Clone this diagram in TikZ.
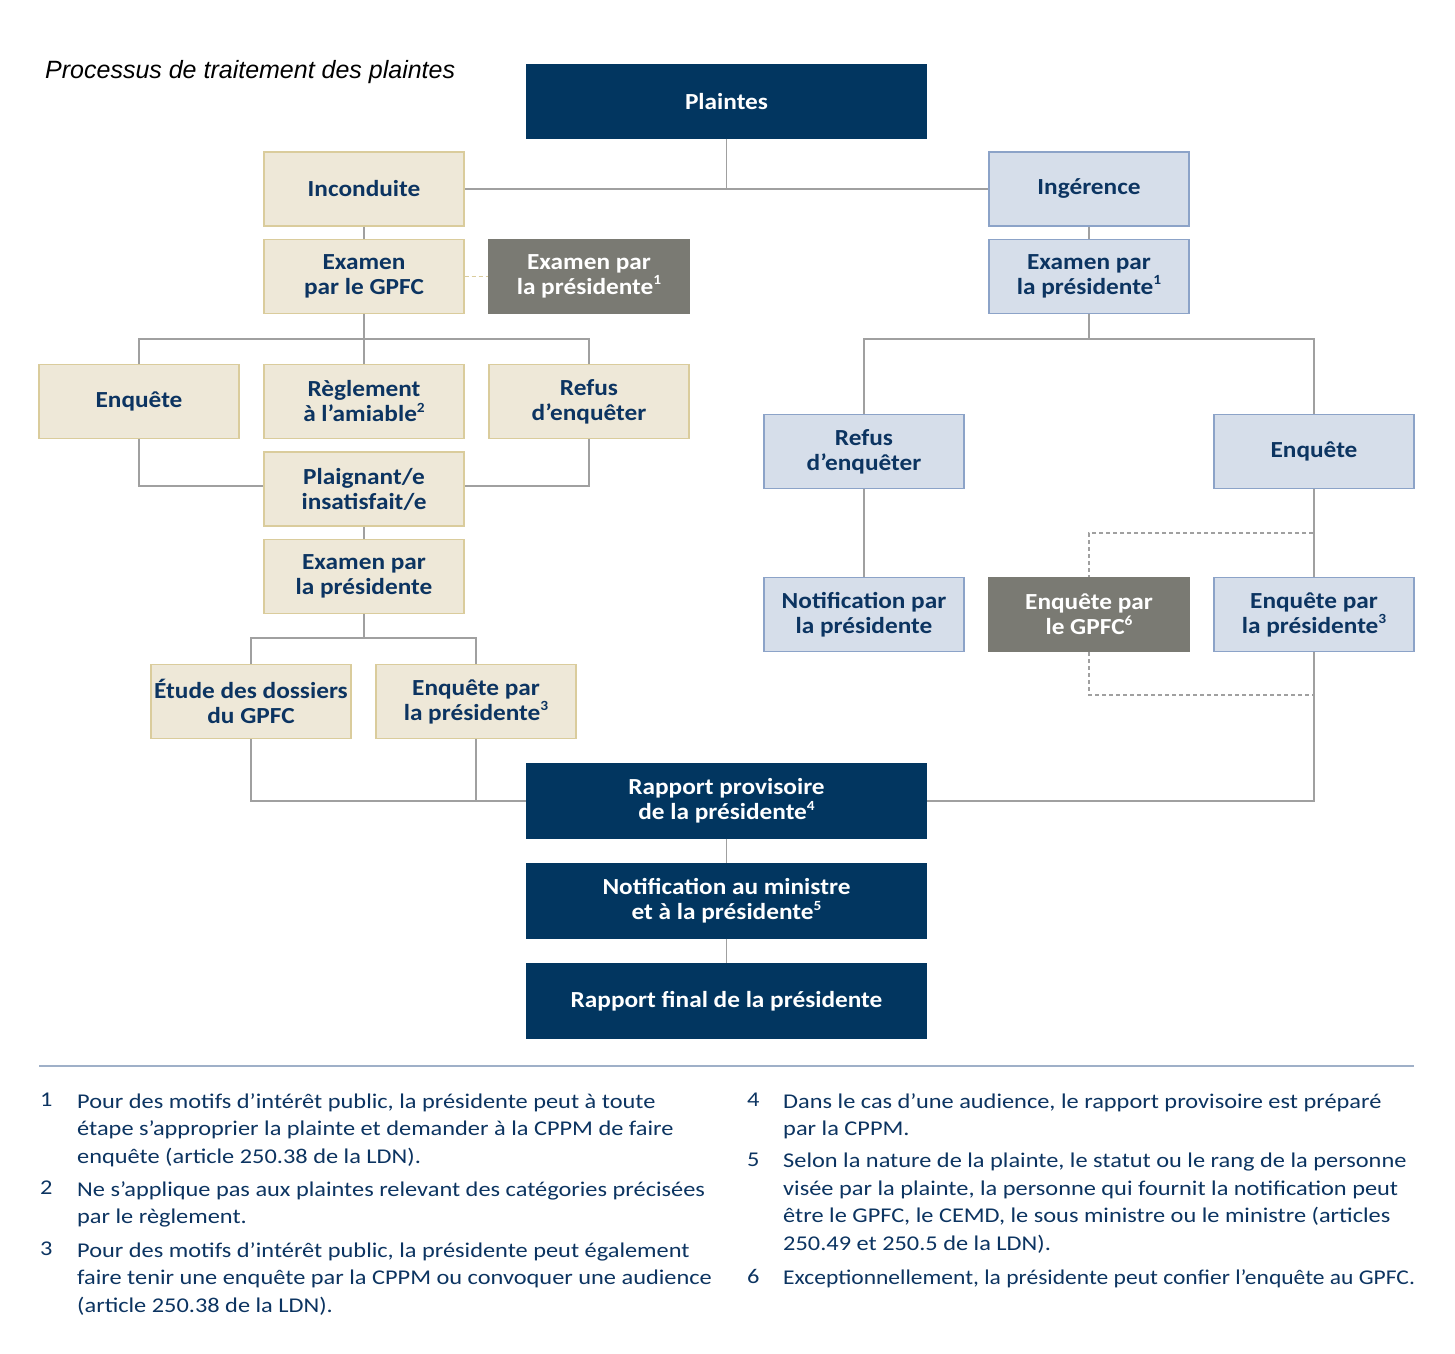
\documentclass[tikz,border=0pt]{standalone}
\usepackage{fontspec}
\setmainfont{Carlito}
\newfontfamily\titlefont{Liberation Sans}
\newfontfamily\boxfont{Carlito}[FakeStretch=1.1]
\newfontfamily\fnfont{Carlito}[FakeStretch=1.16]
\newfontfamily\fnfontnarrow{Carlito}[FakeStretch=1.12]
\newcommand\supn[1]{\raisebox{0.42em}{\fontsize{14}{14}\selectfont #1}}
\definecolor{navy}{RGB}{2,54,96}
\definecolor{navytext}{RGB}{12,52,97}
\definecolor{beigefill}{RGB}{238,232,216}
\definecolor{beigeline}{RGB}{218,204,156}
\definecolor{bluefill}{RGB}{214,222,234}
\definecolor{blueline}{RGB}{140,163,200}
\definecolor{greybox}{RGB}{122,122,115}
\definecolor{conn}{RGB}{160,160,160}
\definecolor{rule}{RGB}{159,176,200}
\tikzset{
  box/.style={minimum width=200pt,minimum height=74pt,inner sep=0pt,align=center,
    font=\boxfont\fontsize{23}{25}\selectfont\bfseries,line width=1.2pt},
  beigebox/.style={box,fill=beigefill,draw=beigeline,text=navytext},
  bluebox/.style={box,fill=bluefill,draw=blueline,text=navytext},
  greyb/.style={box,fill=greybox,draw=greybox,text=white},
  navybox/.style={box,minimum width=399pt,fill=navy,draw=navy,text=white},
  link/.style={draw=conn,line width=1.4pt},
  dashgrey/.style={draw=conn,line width=1.2pt,dash pattern=on 4pt off 3pt},
  dashbeige/.style={draw=beigeline,line width=1.2pt,dash pattern=on 4pt off 3pt},
  fnnum/.style={anchor=north west,inner sep=0pt,text=navytext,font=\fnfont\fontsize{21}{27.5}\selectfont},
  fntext/.style={anchor=north west,inner sep=0pt,align=left,text=navytext,font=\fnfont\fontsize{21}{27.5}\selectfont}
}
\begin{document}
\begin{tikzpicture}[x=1pt,y=-1pt]
\useasboundingbox[fill=white] (0,0) rectangle (1455,1353);
% title
\node[anchor=west,inner sep=0pt,font=\titlefont\itshape\fontsize{25}{28}\selectfont] (title) at (45,72) {Processus de traitement des plaintes};
% nodes
\node[navybox,minimum height=73pt] (plaintes) at (726.5,101.5) {Plaintes};
\node[beigebox] (incond) at (364,189) {Inconduite};
\node[bluebox] (ingerence) at (1089,189) {Ingérence};
\node[beigebox] (exgpfc) at (364,276.5) {Examen\\par le GPFC};
\node[greyb] (expres1) at (589,276.5) {Examen par\\la présidente\supn{1}};
\node[bluebox] (exprdroite) at (1089,276.5) {Examen par\\la présidente\supn{1}};
\node[beigebox] (enqL) at (139,401.5) {Enquête};
\node[beigebox] (regl) at (364,401.5) {Règlement\\à l’amiable\supn{2}};
\node[beigebox] (refusL) at (589,401.5) {Refus\\d’enquêter};
\node[beigebox] (plaign) at (364,489) {Plaignant/e\\insatisfait/e};
\node[beigebox] (expres) at (364,576.5) {Examen par\\la présidente};
\node[beigebox] (etude) at (251,701.5) {Étude des dossiers\\du GPFC};
\node[beigebox] (enqpresL) at (476,701.5) {Enquête par\\la présidente\supn{3}};
\node[bluebox] (refusR) at (864,451.5) {Refus\\d’enquêter};
\node[bluebox] (enqR) at (1314,451.5) {Enquête};
\node[bluebox] (notifR) at (864,614.5) {Notification par\\la présidente};
\node[greyb] (enqgpfc) at (1089,614.5) {Enquête par\\le GPFC\supn{6}};
\node[bluebox] (enqpresR) at (1314,614.5) {Enquête par\\la présidente\supn{3}};
\node[navybox] (rapport) at (726.5,801) {Rapport provisoire\\de la présidente\supn{4}};
\node[navybox] (notif) at (726.5,901) {Notification au ministre\\et à la présidente\supn{5}};
\node[navybox] (final) at (726.5,1001) {Rapport final de la présidente};
% connectors
\draw[link] (incond.east) -- (ingerence.west);
\draw[link] (plaintes.south) -- (plaintes.south |- incond.east);
\draw[link] (incond) -- (exgpfc);
\draw[dashbeige] (exgpfc.east) -- (expres1.west);
\draw[link] (ingerence) -- (exprdroite);
\draw[link] (exgpfc) -- (regl);
\draw[link] (enqL.north) -- ++(0,-25) -| (refusL.north);
\draw[link] (enqL.south) |- ([yshift=3pt]plaign.west);
\draw[link] (refusL.south) |- ([yshift=3pt]plaign.east);
\draw[link] (plaign) -- (expres);
\draw[link] (expres.south) -- ++(0,24);
\draw[link] (etude.north) -- ++(0,-26) -| (enqpresL.north);
\draw[link] (etude.south) |- (rapport.west);
\draw[link] (enqpresL.south) -- (enqpresL.south |- rapport.west);
\draw[link] (rapport) -- (notif);
\draw[link] (notif) -- (final);
\draw[link] (exprdroite.south) -- ++(0,25);
\draw[link] (refusR.north) -- ++(0,-75) -| (enqR.north);
\draw[link] (refusR) -- (notifR);
\draw[link] (enqR) -- (enqpresR);
\draw[link] (enqpresR.south) |- (rapport.east);
\coordinate (d1) at (1313,533);
\coordinate (d2) at (1313,695);
\draw[dashgrey] (d1) -| (enqgpfc.north);
\draw[dashgrey] (enqgpfc.south) |- (d2);
% rule
\coordinate (r1) at (39,1066);
\coordinate (r2) at (1414,1066);
\draw[draw=rule,line width=1.5pt] (r1) -- (r2);
% footnotes
\node[fnnum] (n1) at (40,1093) {1};
\node[fntext] (f1) at (77,1093) {Pour des motifs d’intérêt public, la présidente peut à toute\\étape s’approprier la plainte et demander à la CPPM de faire\\enquête (article 250.38 de la LDN).};
\node[fnnum] (n2) at (40,1181) {2};
\node[fntext] (f2) at (77,1181) {Ne s’applique pas aux plaintes relevant des catégories précisées\\par le règlement.};
\node[fnnum] (n3) at (40,1242) {3};
\node[fntext] (f3) at (77,1242) {Pour des motifs d’intérêt public, la présidente peut également\\faire tenir une enquête par la CPPM ou convoquer une audience\\(article 250.38 de la LDN).};
\node[fnnum] (n4) at (747,1093) {4};
\node[fntext] (f4) at (783,1093) {Dans le cas d’une audience, le rapport provisoire est préparé\\par la CPPM.};
\node[fnnum] (n5) at (747,1153) {5};
\node[fntext] (f5) at (783,1153) {Selon la nature de la plainte, le statut ou le rang de la personne\\visée par la plainte, la personne qui fournit la notification peut\\être le GPFC, le CEMD, le sous ministre ou le ministre (articles\\250.49 et 250.5 de la LDN).};
\node[fnnum] (n6) at (747,1269) {6};
\node[fntext,font=\fnfontnarrow\fontsize{21}{27.5}\selectfont] (f6) at (783,1269) {Exceptionnellement, la présidente peut confier l’enquête au GPFC.};
\end{tikzpicture}
\end{document}
